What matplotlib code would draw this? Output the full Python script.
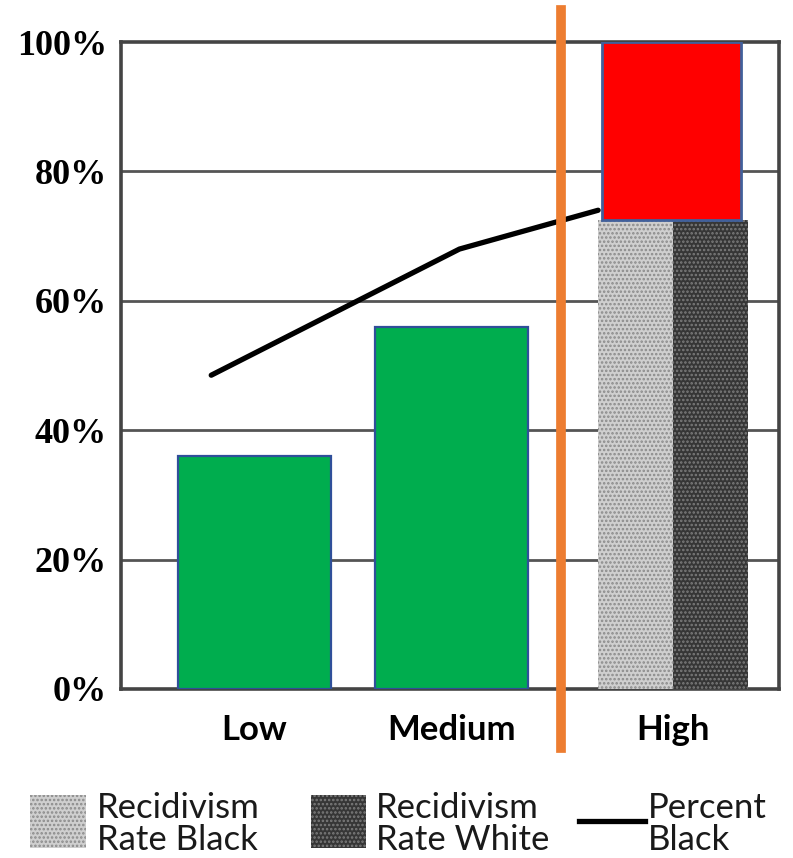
import matplotlib.pyplot as plt
from matplotlib.patches import Rectangle
from matplotlib.lines import Line2D
from matplotlib.transforms import ScaledTranslation

# recidivism by risk group
categories = ['Low', 'Medium', 'High']
overall_rate = [36, 56]          # Low, Medium
rate_black_high = 72.5
rate_white_high = 72.5
percent_black = [48.5, 68, 74]
highlight_range = [72.5, 100]    # box drawn over the High group

yticks = [0, 20, 40, 60, 80, 100]
ytick_labels = ['0%', '20%', '40%', '60%', '80%', '100%']

# layout along x (category units)
x_pos = [0, 1, 2.124]
line_x = [-0.22, 1.04, 1.744]
bar_w = 0.777
half_w = 0.38
divider_x = 1.556

light_face, light_hatch = '#cfcfcf', '#8a8a8a'
dark_face, dark_hatch = '#363636', '#7c7c7c'

fig = plt.figure(figsize=(7.93, 8.58), dpi=100)
ax = fig.add_axes([0.1526, 0.197, 0.8297, 0.754])
ax.set_xlim(-0.678, 2.662)
ax.set_ylim(0, 100)

for y in yticks[1:-1]:
    ax.axhline(y, color='#555555', lw=2, zorder=1)

ax.plot(line_x, percent_black, color='black', lw=3.8, solid_capstyle='round', zorder=2)

ax.bar(x_pos[:2], overall_rate, width=bar_w, color='#00AD4E', edgecolor='#2F4F9A', lw=1.6, zorder=3)

plt.rcParams['hatch.linewidth'] = 1.2
ax.bar(x_pos[2] - half_w / 2, rate_black_high, width=half_w, color=light_face,
       edgecolor=light_hatch, hatch='....', lw=0, zorder=3)
ax.bar(x_pos[2] + half_w / 2, rate_white_high, width=half_w, color=dark_face,
       edgecolor=dark_hatch, hatch='....', lw=0, zorder=3)

ax.bar(2.117, highlight_range[1] - highlight_range[0], bottom=highlight_range[0], width=0.706,
       color='#FF0000', edgecolor='#41609B', lw=2, zorder=4)

ax.plot([divider_x, divider_x], [-9.1, 105], color='#ED7D31', lw=7, clip_on=False, zorder=5)

for s in ax.spines.values():
    s.set_color('#444444')
    s.set_linewidth(2.6)

ax.set_yticks(yticks)
ax.set_yticklabels(ytick_labels, fontfamily='Liberation Serif', fontweight='bold', fontsize=26)
for lbl in ax.get_yticklabels():
    lbl.set_transform(lbl.get_transform() + ScaledTranslation(0, -5 / 72, fig.dpi_scale_trans))
ax.set_xticks(x_pos)
ax.set_xticklabels(categories, fontfamily='Lato', fontweight='bold', fontsize=25)
ax.tick_params(length=0)
ax.tick_params(axis='y', pad=10)
ax.tick_params(axis='x', pad=18)

# legend
def fx(px):
    return px / 793

def fy(py):
    return 1 - py / 858

fig.add_artist(Rectangle((fx(30), fy(848)), fx(56), 53 / 858, transform=fig.transFigure,
                         facecolor=light_face, edgecolor=light_hatch, hatch='....', lw=0))
fig.add_artist(Rectangle((fx(311), fy(848)), fx(55), 53 / 858, transform=fig.transFigure,
                         facecolor=dark_face, edgecolor=dark_hatch, hatch='....', lw=0))
fig.add_artist(Line2D([fx(579), fx(645)], [fy(821), fy(821)], transform=fig.transFigure,
                      color='black', lw=3.8))
for x, txt in [(97, 'Recidivism\nRate Black'), (376, 'Recidivism\nRate White'), (648, 'Percent\nBlack')]:
    fig.text(fx(x), fy(824), txt, fontfamily='Lato', fontsize=25,
             va='center', ha='left', linespacing=1.0, color='#1a1a1a')

fig.savefig('out.png', dpi=100)
